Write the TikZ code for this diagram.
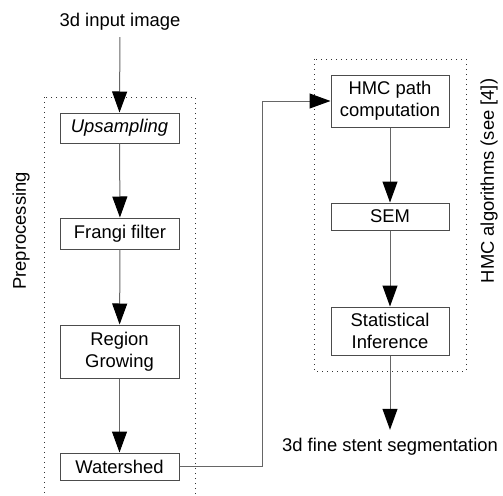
\documentclass[tikz,border=0pt]{standalone}
\usepackage{fontspec}
\setmainfont{Liberation Sans}
\usetikzlibrary{arrows.meta}
\begin{document}
\begin{tikzpicture}[x=1pt,y=-1pt,
  every node/.style={font=\fontsize{18.4}{22}\selectfont},
  box/.style={draw=black!70, line width=1pt, minimum width=119pt, inner sep=0pt, align=center, fill=white},
  rbox/.style={box, minimum width=118pt},
  conn/.style={draw=black!60, line width=1pt, -{Triangle[length=21pt,width=15pt,color=black,fill=black]}},
  group/.style={draw=black!80, line width=0.9pt, dash pattern=on 0.9pt off 4.1pt},
  lbl/.style={inner sep=0pt, text height=13pt, text depth=4pt}]
\clip (0,0) rectangle (503,495);
\useasboundingbox (0,0) rectangle (503,495);
% groups
\draw[group] (44,97) rectangle (195,520);
\draw[group] (314,59) rectangle (466,371);
\node[rotate=90, inner sep=0pt] (pre) at (21,231) {Preprocessing};
\node[rotate=90, inner sep=0pt] (hmcl) at (489,181) {HMC algorithms (see [4])};
% nodes
\node[lbl, anchor=base] (in) at (120,26.6) {3d input image};
\node[box, minimum height=30pt] (up) at (119.5,128) {\itshape Upsampling};
\node[box, minimum height=31pt] (fr) at (120,233.5) {Frangi filter};
\node[box, minimum height=53pt] (rg) at (119.5,351.5) {Region\\Growing};
\node[box, minimum height=27pt] (ws) at (119.5,466.5) {Watershed};
\node[rbox, minimum height=52pt] (hmc) at (390,101) {HMC path\\computation};
\node[rbox, minimum height=27pt] (sem) at (390,216.5) {SEM};
\node[rbox, minimum height=48pt] (st) at (390,331) {Statistical\\Inference};
\node[lbl, anchor=base] (out) at (390,451.6) {3d fine stent segmentation};
% connectors
\draw[conn, shorten <=6.4pt] (in.south) -- (up.north);
\draw[conn] (up) -- (fr);
\draw[conn] (fr) -- (rg);
\draw[conn] (rg) -- (ws);
\draw[conn] (ws.east) -- ++(82.5,0) |- (hmc.west);
\draw[conn] (hmc) -- (sem);
\draw[conn] (sem) -- (st);
\draw[conn, shorten >=8.6pt] (st.south) -- (out.north);
\end{tikzpicture}
\end{document}
